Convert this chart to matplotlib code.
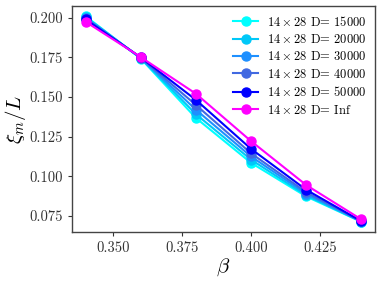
import matplotlib
matplotlib.use("Agg")
import matplotlib.pyplot as plt

beta = [0.34, 0.36, 0.38, 0.40, 0.42, 0.44]
labels = [r"$14\times28$ D= 15000", r"$14\times28$ D= 20000", r"$14\times28$ D= 30000",
          r"$14\times28$ D= 40000", r"$14\times28$ D= 50000", r"$14\times28$ D= Inf"]
colors = ["#00FFFF", "#00C8F8", "#1E90FF", "#4169E1", "#0000FF", "#FF00FF"]
xi_D15000 = [0.2010, 0.1743, 0.1368, 0.1085, 0.0873, 0.0713]
xi_D20000 = [0.2005, 0.1745, 0.1392, 0.1105, 0.0880, 0.0714]
xi_D30000 = [0.2000, 0.1747, 0.1420, 0.1125, 0.0890, 0.0715]
xi_D40000 = [0.1995, 0.1748, 0.1450, 0.1145, 0.0900, 0.0716]
xi_D50000 = [0.1990, 0.1750, 0.1482, 0.1173, 0.0915, 0.0717]
xi_Inf = [0.1975, 0.1752, 0.1521, 0.1222, 0.0945, 0.0728]
series = [xi_D15000, xi_D20000, xi_D30000, xi_D40000, xi_D50000, xi_Inf]

plt.rcParams["font.family"] = "serif"
plt.rcParams["font.serif"] = ["cmr10", "DejaVu Serif"]
plt.rcParams["mathtext.fontset"] = "cm"
plt.rcParams["axes.formatter.use_mathtext"] = True

fig = plt.figure(figsize=(3.82, 2.82), dpi=100)
ax = fig.add_axes([0.188, 0.177, 0.794, 0.802])
for y, c, lab in zip(series, colors, labels):
    ax.plot(beta, y, "-o", color=c, label=lab, lw=1.5, ms=6.5)

ax.set_xticks([0.350, 0.375, 0.400, 0.425])
ax.set_xticklabels(["0.350", "0.375", "0.400", "0.425"])
ax.set_yticks([0.075, 0.100, 0.125, 0.150, 0.175, 0.200])
ax.set_yticklabels(["0.075", "0.100", "0.125", "0.150", "0.175", "0.200"])
ax.tick_params(labelsize=10.5, colors="#333333", labelcolor="#333333", length=3, width=0.8)
for s in ax.spines.values():
    s.set_color("#444444")
    s.set_linewidth(1.0)
ax.set_xlabel(r"$\beta$", fontsize=15, labelpad=1)
ax.set_ylabel(r"$\xi_m/L$", fontsize=15, labelpad=1)
leg = ax.legend(loc="upper right", fontsize=9, frameon=False, handlelength=2.0,
                handletextpad=0.7, labelspacing=0.35, borderaxespad=0.3)
fig.savefig("out.png", dpi=100)
